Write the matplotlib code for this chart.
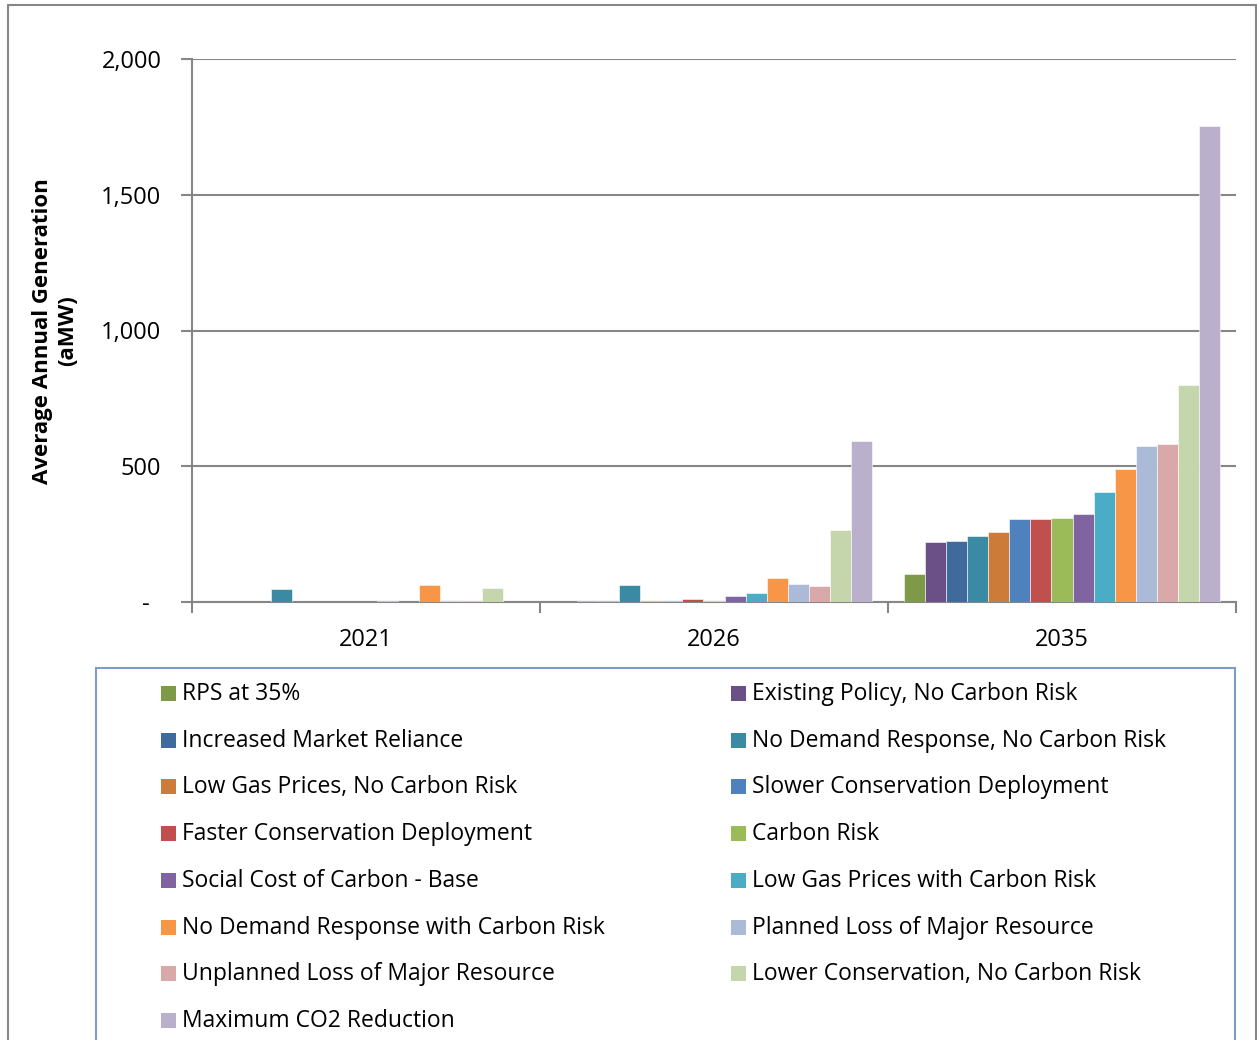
import matplotlib
matplotlib.use("Agg")
import matplotlib.pyplot as plt
from matplotlib.patches import Rectangle
from matplotlib.ticker import FuncFormatter
import numpy as np

plt.rcParams['font.family'] = ['Open Sans', 'DejaVu Sans']

years = ["2021", "2026", "2035"]
series = [
    "RPS at 35%",
    "Existing Policy, No Carbon Risk",
    "Increased Market Reliance",
    "No Demand Response, No Carbon Risk",
    "Low Gas Prices, No Carbon Risk",
    "Slower Conservation Deployment",
    "Faster Conservation Deployment",
    "Carbon Risk",
    "Social Cost of Carbon - Base",
    "Low Gas Prices with Carbon Risk",
    "No Demand Response with Carbon Risk",
    "Planned Loss of Major Resource",
    "Unplanned Loss of Major Resource",
    "Lower Conservation, No Carbon Risk",
    "Maximum CO2 Reduction",
]
values_2021 = [0, 0, 0, 47, 0, 0, 0, 0, 3, 0, 61, 5, 4, 52, 0]
values_2026 = [0, 5, 4, 61, 4, 5, 10, 5, 22, 33, 88, 66, 58, 265, 594]
values_2035 = [103, 220, 225, 243, 257, 305, 307, 309, 325, 405, 489, 573, 583, 799, 1752]
colors = [
    "#7E9A48", "#6A5087", "#3F6A9B", "#3A8AA3", "#CC7B38",
    "#4F81BD", "#C0504D", "#9BBB59", "#8064A2", "#4BACC6",
    "#F79646", "#AABAD7", "#D9A8A8", "#C6D6AC", "#BAB0CB",
]

W, H = 1257, 1040
fig = plt.figure(figsize=(W / 100, H / 100), dpi=100)

def fx(px):
    return px / W

def fy(py):
    return 1 - py / H

# outer chart border
fig.add_artist(Rectangle((fx(8), fy(1045)), fx(1256) - fx(8), fy(5) - fy(1045),
                         transform=fig.transFigure, fill=False,
                         edgecolor="#868686", linewidth=1.5))

ax = fig.add_axes([fx(192), fy(602), fx(1236) - fx(192), fy(59) - fy(602)])

data = np.array([values_2021, values_2026, values_2035])
n = len(series)
group_w = 0.909
bw = group_w / n
x = np.arange(len(years))
bars = []
for i in range(n):
    b = ax.bar(x + (i - (n - 1) / 2) * bw, data[:, i], width=bw,
               color=colors[i], edgecolor="white", linewidth=0.4,
               label=series[i], zorder=3)
    bars.append(b)

ax.set_xlim(-0.5, 2.5)
ax.set_ylim(0, 2000)
ax.set_yticks([0, 500, 1000, 1500, 2000])
ax.yaxis.set_major_formatter(FuncFormatter(lambda v, p: "-  " if v == 0 else f"{int(v):,}"))
ax.grid(axis="y", color="#868686", linewidth=1.5, zorder=0)
ax.set_axisbelow(True)

ax.set_xticks([-0.5, 0.5, 1.5, 2.5])
ax.set_xticklabels([])
ax.set_xticks(x, minor=True)
ax.set_xticklabels(years, minor=True)
ax.tick_params(axis="x", which="major", length=8, width=1.5, color="#868686", direction="out")
ax.tick_params(axis="x", which="minor", length=0, pad=19, labelsize=17)
ax.tick_params(axis="y", length=8, width=1.5, color="#868686", direction="out", pad=14, labelsize=17)

for s in ["top", "right"]:
    ax.spines[s].set_visible(False)
for s in ["left", "bottom"]:
    ax.spines[s].set_color("#868686")
    ax.spines[s].set_linewidth(1.5)

fig.text(fx(55), fy(331), "Average Annual Generation\n(aMW)", rotation=90,
         ha="center", va="center", fontsize=16, fontweight="bold",
         linespacing=1.3)

# legend box (manual layout, two columns, row-wise order)
fig.add_artist(Rectangle((fx(96), fy(1045)), fx(1235) - fx(96), fy(668) - fy(1045),
                         transform=fig.transFigure, fill=False,
                         edgecolor="#7F9BC8", linewidth=1.5))
row_y0 = 693
row_dy = 46.7
col_x = [161, 731]
for i, (b, name) in enumerate(zip(bars, series)):
    r, c = divmod(i, 2)
    yc = row_y0 + r * row_dy
    xs = col_x[c]
    fig.add_artist(Rectangle((fx(xs), fy(yc + 8)), fx(15), 15 / H,
                             transform=fig.transFigure,
                             facecolor=b.patches[0].get_facecolor(), edgecolor="none"))
    fig.text(fx(xs + 21), fy(yc + 1), name, ha="left", va="center", fontsize=16.5)

fig.savefig("out.png", dpi=100)
